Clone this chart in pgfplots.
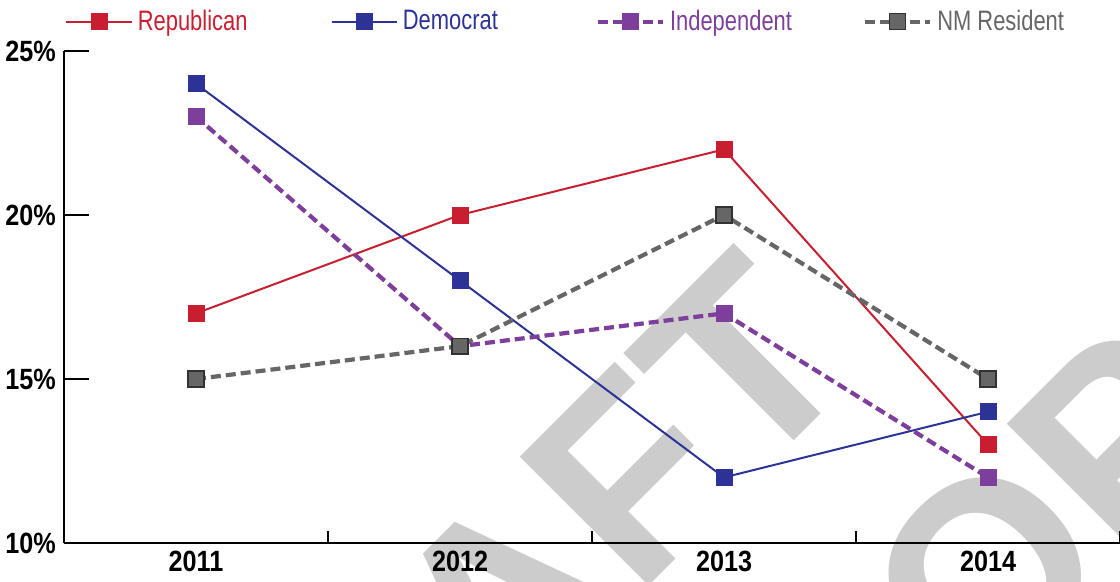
\documentclass[border=0pt]{standalone}
\usepackage{pgfplots}
\pgfplotsset{compat=1.18}
\usepackage{fontspec}
\setmainfont{Liberation Sans}
\newfontfamily\legfont[FakeStretch=0.78]{Liberation Sans}
\newfontfamily\tickfont[FakeStretch=0.86]{Liberation Sans}

\definecolor{rep}{RGB}{200,30,48}
\definecolor{dem}{RGB}{44,50,150}
\definecolor{ind}{RGB}{125,62,156}
\definecolor{nmr}{RGB}{102,102,102}
\definecolor{nmrborder}{RGB}{50,50,50}
\definecolor{wm}{RGB}{204,204,204}

\pgfplotstableread{
x rep dem ind nmr
0 17 24 23 15
1 20 18 16 16
2 22 12 17 20
3 13 14 12 15
}\survey

\begin{document}
\begin{tikzpicture}[x=0.015cm,y=0.015cm]
% watermark behind the chart
\begin{scope}
  \clip (0,0) rectangle (1120,582);
  \tikzset{wmtext/.style={rotate=45, inner sep=0pt, text=wm,
      font=\fontsize{113}{113}\selectfont\bfseries}}
  \node[wmtext, anchor=base east] at (636,-16.8) {DRA};
  \node[wmtext, anchor=base west] at (636,-16.8) {FT};
  \node[wmtext, anchor=base west] at (842,-264.6) {COPY};
\end{scope}

\begin{axis}[
  at={(0.96cm,0.585cm)}, anchor=south west,
  scale only axis, width=15.84cm, height=7.38cm,
  xmin=-0.5, xmax=3.5, ymin=10, ymax=25,
  axis x line*=bottom, axis y line*=left,
  axis line style={line width=0.85pt, black},
  xtick={0,1,2,3}, xticklabels={2011,2012,2013,2014},
  major x tick style={draw=none},
  minor xtick={0.5,1.5,2.5,3.5},
  minor tick length=0.18cm,
  minor x tick style={line width=0.85pt, black},
  ytick={10,15,20,25}, yticklabels={10\%,15\%,20\%,25\%},
  major tick length=0.375cm,
  tick align=inside,
  y tick style={line width=0.85pt, black},
  ticklabel style={font=\tickfont\bfseries\fontsize{12.5}{12.5}\selectfont},
  clip=false,
  legend columns=4,
  legend style={at={(axis description cs:0,1)}, anchor=west,
    xshift=-0.09cm, yshift=0.44cm, draw=none, fill=none,
    font=\legfont\fontsize{12}{12}\selectfont,
    /tikz/every even column/.append style={column sep=0pt},
    nodes={inner sep=0pt}},
  legend image code/.code={\draw[mark repeat=2,mark phase=2]
    plot coordinates {(0cm,0cm) (0.4875cm,0cm) (0.975cm,0cm)};},
  solidser/.style={line width=0.85pt, mark=square*, mark size=3.4pt},
  dashser/.style={line width=1.8pt, dash pattern=on 0.15cm off 0.075cm,
    mark=square*, mark size=3.4pt},
]
\addplot[solidser, color=rep, mark options={solid, fill=rep, line width=0.3pt}] table[x=x, y=rep] {\survey};
\addlegendentry{\makebox[2.97cm][l]{\hspace{0.08cm}\textcolor{rep}{Republican}}}
\addplot[solidser, color=dem, mark options={solid, fill=dem, line width=0.3pt}] table[x=x, y=dem] {\survey};
\addlegendentry{\makebox[2.97cm][l]{\hspace{0.08cm}\textcolor{dem}{Democrat}}}
\addplot[dashser, color=ind, mark options={solid, fill=ind, line width=0.3pt}] table[x=x, y=ind] {\survey};
\addlegendentry{\makebox[2.97cm][l]{\hspace{0.08cm}\textcolor{ind}{Independent}}}
\addplot[dashser, color=nmr, mark options={solid, fill=nmr, draw=nmrborder, line width=0.6pt}] table[x=x, y=nmr] {\survey};
\addlegendentry{\makebox[2.97cm][l]{\hspace{0.08cm}\textcolor{nmr}{NM Resident}}}
\end{axis}
\pgfresetboundingbox
\useasboundingbox (0,0) rectangle (1120,582);
\end{tikzpicture}
\end{document}
